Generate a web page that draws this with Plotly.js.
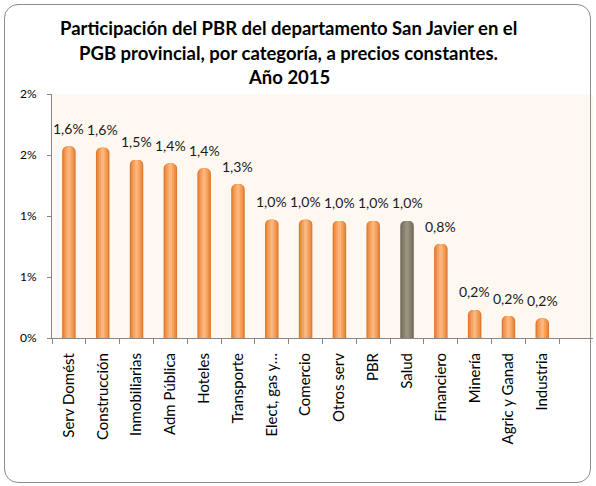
<!DOCTYPE html>
<html>
<head>
<meta charset="utf-8">
<script src="https://cdn.plot.ly/plotly-3.0.1.min.js"></script>
<style>
  html, body { margin: 0; padding: 0; background: #ffffff; }
  #wrap { position: relative; width: 596px; height: 486px; }
  #chart { width: 596px; height: 486px; }
  #frame { position: absolute; left: 4px; top: 4px; width: 585px; height: 477px;
           border: 1px solid #8c8c8c; border-radius: 14px; pointer-events: none; }
</style>
</head>
<body>
<div id="wrap">
  <div id="chart"></div>
  <div id="frame"></div>
</div>
<script>
const titleLines = ['Participación del PBR del departamento San Javier en el',
  'PGB provincial, por categoría, a precios constantes.',
  'Año 2015'];
const categories = ['Serv Domést', 'Construcción', 'Inmobiliarias', 'Adm Pública', 'Hoteles',
  'Transporte', 'Elect, gas y…', 'Comercio', 'Otros serv', 'PBR', 'Salud', 'Financiero',
  'Minería', 'Agric y Ganad', 'Industria'];
const shares = [1.57, 1.56, 1.46, 1.43, 1.39, 1.26, 0.97, 0.97, 0.96, 0.96, 0.96, 0.77, 0.23, 0.18, 0.16];
const yTickValues = [0, 0.5, 1, 1.5, 2];
const yTickLabels = ['0%', '1%', '1%', '2%', '2%'];
const highlighted = 'Salud';

const orangeLayers = ['#DE7A33', '#EE9048', '#F6A25F', '#FBB57D'];
const grayLayers = ['#6F6A58', '#7E7966', '#8A8573', '#98937F'];
const layerWidths = [0.40, 0.32, 0.22, 0.10];

const traces = layerWidths.map((w, i) => ({
  type: 'bar',
  x: categories,
  y: shares,
  width: categories.map(() => w),
  marker: {
    color: categories.map(c => c === highlighted ? grayLayers[i] : orangeLayers[i]),
    line: { width: 0 },
    cornerradius: i === 0 ? 5 : 4
  },
  hoverinfo: 'skip',
  showlegend: false
}));

const fmt = v => (Math.round(v * 10) / 10).toFixed(1).replace('.', ',') + '%';
const annotations = categories.map((c, i) => ({
  x: c, y: shares[i], xref: 'x', yref: 'y',
  text: fmt(shares[i]), showarrow: false,
  yanchor: 'middle', yshift: 18,
  font: { family: 'Lato, sans-serif', size: 14, color: '#1a1a1a' }
}));

const titleY = [1.269, 1.167, 1.071];
titleLines.forEach((t, i) => annotations.push({
  x: 0.438, y: titleY[i], xref: 'paper', yref: 'paper',
  xanchor: 'center', yanchor: 'middle', showarrow: false,
  text: '<b>' + t + '</b>',
  font: { family: 'Lato, sans-serif', size: 18.5, color: '#000000' }
}));

const layout = {
  width: 596, height: 486,
  margin: { l: 52, r: 3, t: 94, b: 148 },
  paper_bgcolor: '#ffffff',
  plot_bgcolor: '#FEF8F0',
  barmode: 'overlay',
  xaxis: {
    type: 'category',
    range: [-0.5, 15.5],
    tickangle: -90,
    ticks: 'outside', ticklen: 5, tickcolor: '#868686',
    tickson: 'boundaries',
    showline: true, linecolor: '#868686', linewidth: 1,
    showgrid: false,
    tickfont: { family: 'Lato, sans-serif', size: 15, color: '#000000' },
    ticklabelstandoff: 8
  },
  yaxis: {
    range: [0, 2],
    tickvals: yTickValues,
    ticktext: yTickLabels,
    ticks: 'outside', ticklen: 4, tickcolor: '#868686',
    showline: true, linecolor: '#868686', linewidth: 1,
    showgrid: false, zeroline: false,
    tickfont: { family: 'Lato, sans-serif', size: 12, color: '#000000' },
    ticklabelstandoff: 8
  },
  annotations: annotations
};

Plotly.newPlot('chart', traces, layout, { displayModeBar: false, staticPlot: true });
</script>
</body>
</html>
